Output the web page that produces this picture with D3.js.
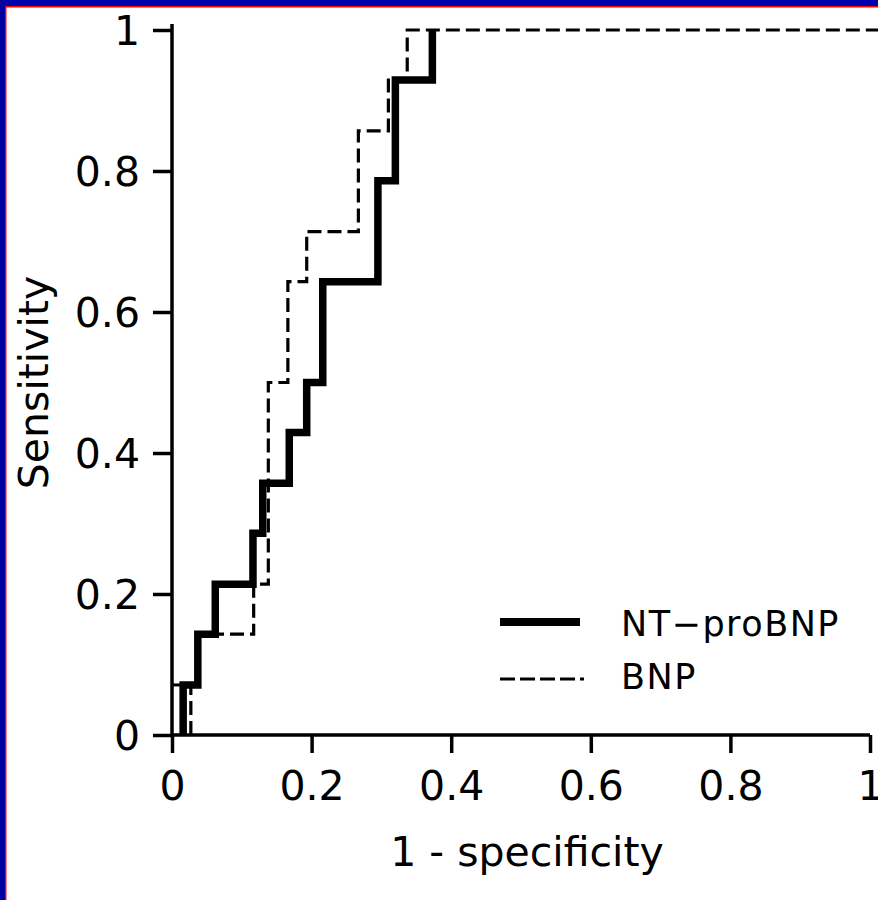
<!DOCTYPE html>
<html>
<head>
<meta charset="utf-8">
<script src="https://cdn.jsdelivr.net/npm/d3@7"></script>
<style>
  html, body { margin: 0; padding: 0; background: #fff; }
  svg { display: block; }
  text { font-family: "DejaVu Sans", sans-serif; fill: #000; }
</style>
</head>
<body>
<svg id="chart" width="878" height="900"></svg>
<script>
// ---- data ----
const xTickValues = [0, 0.2, 0.4, 0.6, 0.8, 1];
const xTickLabels = ["0", "0.2", "0.4", "0.6", "0.8", "1"];
const yTickValues = [0, 0.2, 0.4, 0.6, 0.8, 1];
const yTickLabels = ["0", "0.2", "0.4", "0.6", "0.8", "1"];

const seriesNames = ["NT\u2212proBNP", "BNP"];

// ROC vertices (1 - specificity, sensitivity), drawn as step-after curves
const ntFpr = [0.016, 0.016, 0.037, 0.062, 0.116, 0.130, 0.168, 0.193, 0.216, 0.295, 0.320, 0.373];
const ntTpr = [0,     0.071, 0.143, 0.214, 0.286, 0.357, 0.429, 0.500, 0.643, 0.786, 0.929, 1.000];

const bnpFpr = [0.027, 0.027, 0.037, 0.117, 0.138, 0.166, 0.193, 0.267, 0.310, 0.337, 1.02];
const bnpTpr = [0,     0.071, 0.143, 0.214, 0.500, 0.643, 0.714, 0.857, 0.929, 1.000, 1.000];
// short leading piece of the BNP curve at the left axis
const bnpLeadFpr = [0, 0.016];
const bnpLeadTpr = [0.071, 0.071];

// ---- layout ----
const svg = d3.select("#chart");
const W = 878, H = 900;

// frame
svg.append("rect").attr("x", 0).attr("y", 0).attr("width", W).attr("height", H).attr("fill", "#fff");
svg.append("rect").attr("x", 0).attr("y", 0).attr("width", W).attr("height", 6).attr("fill", "#0000ac");
svg.append("rect").attr("x", 0).attr("y", 0).attr("width", 5).attr("height", H).attr("fill", "#0000a0");
svg.append("rect").attr("x", 5).attr("y", 6).attr("width", W - 5).attr("height", 1.5).attr("fill", "#ff0000");
svg.append("rect").attr("x", 5).attr("y", 6).attr("width", 1.5).attr("height", H - 6).attr("fill", "#ff0000");

const x = d3.scaleLinear().domain([0, 1]).range([172, 870]);
const y = d3.scaleLinear().domain([0, 1]).range([735, 30]);

const axisColor = "#000";
const axisW = 3.5;

// axes
const gx = svg.append("g").attr("transform", `translate(0,${y(0)})`)
  .call(d3.axisBottom(x).tickValues(xTickValues).tickFormat((d, i) => xTickLabels[i]).tickSize(18).tickSizeOuter(0));
gx.select(".domain").remove();
gx.selectAll(".tick line").attr("stroke", axisColor).attr("stroke-width", axisW);
gx.selectAll(".tick text").attr("y", 65).attr("dy", 0).attr("font-size", 41).attr("font-family", "DejaVu Sans");

const gy = svg.append("g").attr("transform", `translate(${x(0)},0)`)
  .call(d3.axisLeft(y).tickValues(yTickValues).tickFormat((d, i) => yTickLabels[i]).tickSize(19).tickSizeOuter(0));
gy.select(".domain").remove();
gy.selectAll(".tick line").attr("stroke", axisColor).attr("stroke-width", axisW);
gy.selectAll(".tick text").attr("x", -32).attr("dy", "0.36em").attr("font-size", 41).attr("font-family", "DejaVu Sans");

// axis lines
svg.append("line").attr("x1", x(0)).attr("x2", x(0)).attr("y1", y(1) - 6).attr("y2", y(0) + axisW / 2)
  .attr("stroke", axisColor).attr("stroke-width", axisW);
svg.append("line").attr("x1", x(0)).attr("x2", x(1)).attr("y1", y(0)).attr("y2", y(0))
  .attr("stroke", axisColor).attr("stroke-width", axisW);

// axis titles
svg.append("text").attr("x", (x(0) + x(1)) / 2 + 6).attr("y", 866).attr("text-anchor", "middle")
  .attr("font-size", 41).text("1 - specificity");
svg.append("text").attr("transform", `translate(48,${(y(0) + y(1)) / 2}) rotate(-90)`).attr("text-anchor", "middle")
  .attr("font-size", 41).text("Sensitivity");

// curves
const toPts = (xs, ys) => xs.map((v, i) => [v, ys[i]]);
const stepLine = d3.line().x(d => x(d[0])).y(d => y(d[1])).curve(d3.curveStepAfter);
const plainLine = d3.line().x(d => x(d[0])).y(d => y(d[1]));

const dash = "14,6";

svg.append("path").attr("d", plainLine(toPts(bnpLeadFpr, bnpLeadTpr)))
  .attr("fill", "none").attr("stroke", "#000").attr("stroke-width", 3);

svg.append("path").attr("d", stepLine(toPts(bnpFpr, bnpTpr)))
  .attr("fill", "none").attr("stroke", "#000").attr("stroke-width", 3.2)
  .attr("stroke-dasharray", dash);

svg.append("path").attr("d", stepLine(toPts(ntFpr, ntTpr)))
  .attr("fill", "none").attr("stroke", "#000").attr("stroke-width", 7.5)
  .attr("stroke-linejoin", "miter");

// legend
const lg = svg.append("g");
lg.append("line").attr("x1", 500).attr("x2", 580).attr("y1", 622).attr("y2", 622)
  .attr("stroke", "#000").attr("stroke-width", 8);
lg.append("line").attr("x1", 500).attr("x2", 584).attr("y1", 679).attr("y2", 679)
  .attr("stroke", "#000").attr("stroke-width", 3).attr("stroke-dasharray", "15,5");
lg.append("text").attr("x", 621).attr("y", 636).attr("font-size", 35).attr("letter-spacing", 1.5).text(seriesNames[0]);
lg.append("text").attr("x", 621).attr("y", 689).attr("font-size", 35).attr("letter-spacing", 1.5).text(seriesNames[1]);
</script>
</body>
</html>
